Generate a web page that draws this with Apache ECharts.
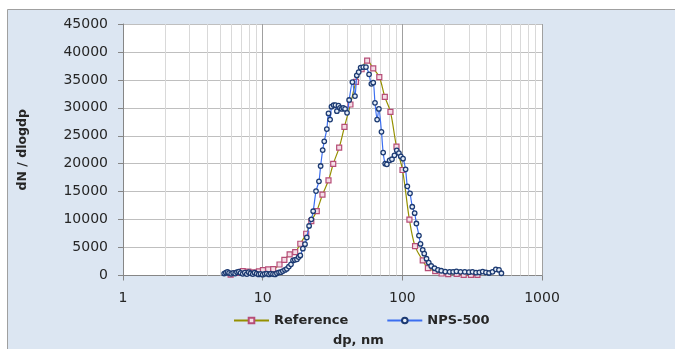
<!DOCTYPE html>
<html>
<head>
<meta charset="utf-8">
<script src="https://cdn.jsdelivr.net/npm/echarts@6/dist/echarts.min.js"></script>
<style>
html,body{margin:0;padding:0;background:#fff;}
#chart{width:675px;height:349px;}
</style>
</head>
<body>
<div id="chart"></div>
<script>
// ---- data ----
const refDp  = [5.9, 6.5, 7.2, 7.9, 8.7, 9.4, 10.05, 10.95, 11.9, 13.2, 14.3, 15.6, 17.1, 18.6, 20.5, 22.3, 24.4, 26.8, 29.6, 32.0, 35.3, 38.5, 42.5, 46.6, 51.1, 56.0, 61.9, 68.4, 74.9, 82.2, 90.8, 100.3, 112.4, 123.3, 140, 152.4, 172, 191, 213, 245, 275, 310, 345];
const refVal = [150, 450, 780, 700, 550, 750, 950, 1100, 1130, 1970, 2810, 3770, 4180, 5680, 7470, 9740, 11530, 14460, 17030, 19960, 22890, 26590, 30600, 34660, 36900, 38430, 37050, 35500, 31970, 29280, 23070, 18880, 9980, 5260, 2690, 1315, 777, 360, 240, 300, 120, 120, 120];

const npsDp  = [5.3, 5.45, 5.6, 5.75, 5.95, 6.15, 6.35, 6.55, 6.75, 6.95, 7.2, 7.45, 7.7, 7.95, 8.2, 8.5, 8.75, 9.05, 9.35, 9.65, 10.0, 10.35, 10.7, 11.1, 11.45, 11.85, 12.25, 12.65, 13.1, 13.5, 13.95, 14.45, 14.9, 15.4, 15.95, 16.5, 17.0, 17.6, 18.1, 18.6, 19.4, 20.1, 20.7, 21.5, 22.3, 23.0, 24.1, 25.3, 26.0, 26.9, 27.6, 28.8, 29.6, 30.4, 31.1, 32.2, 33.2, 34.0, 34.9, 35.8, 36.8, 37.8, 38.9, 40.2, 41.6, 43.9, 45.8, 47.2, 48.7, 50.3, 52.5, 54.9, 57.8, 60.0, 61.9, 63.7, 66.0, 67.9, 70.9, 72.9, 75.4, 77.5, 81.1, 84.3, 87.8, 91.2, 94.5, 97.5, 101.2, 105.5, 108.6, 113.5, 117.8, 122.5, 126.1, 131.5, 134.9, 139.9, 143.5, 149, 154.6, 161, 170, 180, 190, 203, 218, 231, 244, 261, 280, 300, 318, 337, 356, 376, 397, 418, 442, 467, 492, 512];
const npsVal = [350, 500, 650, 450, 300, 450, 350, 600, 700, 450, 300, 500, 250, 600, 400, 250, 500, 350, 200, 300, 150, 300, 350, 200, 350, 250, 200, 400, 550, 600, 800, 1000, 1200, 1600, 2000, 2700, 2800, 2900, 3300, 3600, 4800, 5600, 6800, 8860, 10050, 11500, 15100, 16850, 19590, 22450, 24010, 26200, 29000, 27900, 30200, 30500, 30500, 29400, 30400, 30000, 29800, 30000, 29800, 29100, 31400, 34600, 32100, 35800, 36400, 37200, 37300, 37300, 36000, 34300, 34500, 30900, 27900, 29800, 25700, 22000, 20000, 19900, 20600, 20800, 21500, 22400, 21900, 21300, 20900, 19000, 15950, 14700, 12300, 11150, 9300, 7150, 5650, 4600, 3900, 3000, 2300, 1700, 1300, 1000, 850, 700, 650, 650, 750, 650, 650, 600, 650, 500, 550, 700, 550, 450, 650, 1100, 1000, 400];

const seriesNames = ['Reference', 'NPS-500'];
const xMin = 1, xMax = 1000;
const yMin = 0, yMax = 45000, yStep = 5000;
const xTitle = 'dp, nm';
const yTitle = 'dN / dlogdp';
// minor log gridline positions (2..9 in each decade)
const minorGrid = [];
[1, 10, 100].forEach(d => { for (let k = 2; k <= 9; k++) minorGrid.push(k * d); });

const zip = (a, b) => a.map((v, i) => [v, b[i]]);
const plain = v => String(Math.round(v));

const chart = echarts.init(document.getElementById('chart'), null, {renderer: 'canvas'});
const txt = '#262626';
chart.setOption({
  animation: false,
  backgroundColor: 'transparent',
  graphic: [
    {type: 'rect', z: -100, silent: true,
     shape: {x: 7.5, y: 9.5, width: 1000, height: 600},
     style: {fill: '#dce6f2', stroke: '#a0a0a0', lineWidth: 1}},
    {type: 'text', left: 333, top: 334, silent: true,
     style: {text: xTitle, font: 'bold 13px "DejaVu Sans"', fill: txt}}
  ],
  grid: {left: 123, top: 24, width: 419, height: 251.5, show: true,
         backgroundColor: '#ffffff', borderWidth: 0},
  legend: {
    left: 228, top: 309, itemWidth: 35, itemHeight: 7, itemGap: 38,
    textStyle: {fontFamily: 'DejaVu Sans', fontWeight: 'bold', fontSize: 13, color: txt},
    data: seriesNames
  },
  xAxis: {
    type: 'log', logBase: 10, min: xMin, max: xMax, splitNumber: 3,
    axisLine: {show: true, lineStyle: {color: '#868686'}},
    axisTick: {show: true, length: 5, lineStyle: {color: '#868686'}},
    axisLabel: {margin: 16, fontFamily: 'DejaVu Sans', fontSize: 14, color: txt, formatter: plain},
    splitLine: {show: true, lineStyle: {color: '#a0a0a0', width: 1}}
  },
  yAxis: {
    type: 'value', min: yMin, max: yMax, interval: yStep,
    name: yTitle, nameLocation: 'middle', nameGap: 94,
    nameTextStyle: {fontFamily: 'DejaVu Sans', fontWeight: 'bold', fontSize: 12.5, color: txt},
    axisLine: {show: true, lineStyle: {color: '#868686'}},
    axisTick: {show: true, length: 5, lineStyle: {color: '#868686'}},
    axisLabel: {margin: 15, fontFamily: 'DejaVu Sans', fontSize: 14, color: txt, formatter: plain},
    splitLine: {show: true, lineStyle: {color: '#bfbfbf', width: 1}}
  },
  series: [
    {
      name: seriesNames[0], type: 'line', data: zip(refDp, refVal),
      smooth: 0.35, showAllSymbol: true, symbol: 'rect', symbolSize: 5, z: 3,
      lineStyle: {color: '#959000', width: 1.2},
      itemStyle: {color: '#f4dde6', borderColor: '#b64d77', borderWidth: 1.2},
      emphasis: {disabled: true},
      markLine: {
        silent: true, z: 1, symbol: ['none', 'none'], animation: false,
        label: {show: false},
        lineStyle: {type: 'solid', color: '#d9d9d9', width: 1},
        emphasis: {disabled: true},
        data: minorGrid.map(v => ({xAxis: v}))
      }
    },
    {
      name: seriesNames[1], type: 'line', data: zip(npsDp, npsVal),
      smooth: 0.25, showAllSymbol: true, symbol: 'circle', symbolSize: 4.5, z: 4,
      lineStyle: {color: '#3b6ef0', width: 1.2},
      itemStyle: {color: '#e6eef8', borderColor: '#1c3a72', borderWidth: 1.3},
      emphasis: {disabled: true}
    }
  ]
});
</script>
</body>
</html>
